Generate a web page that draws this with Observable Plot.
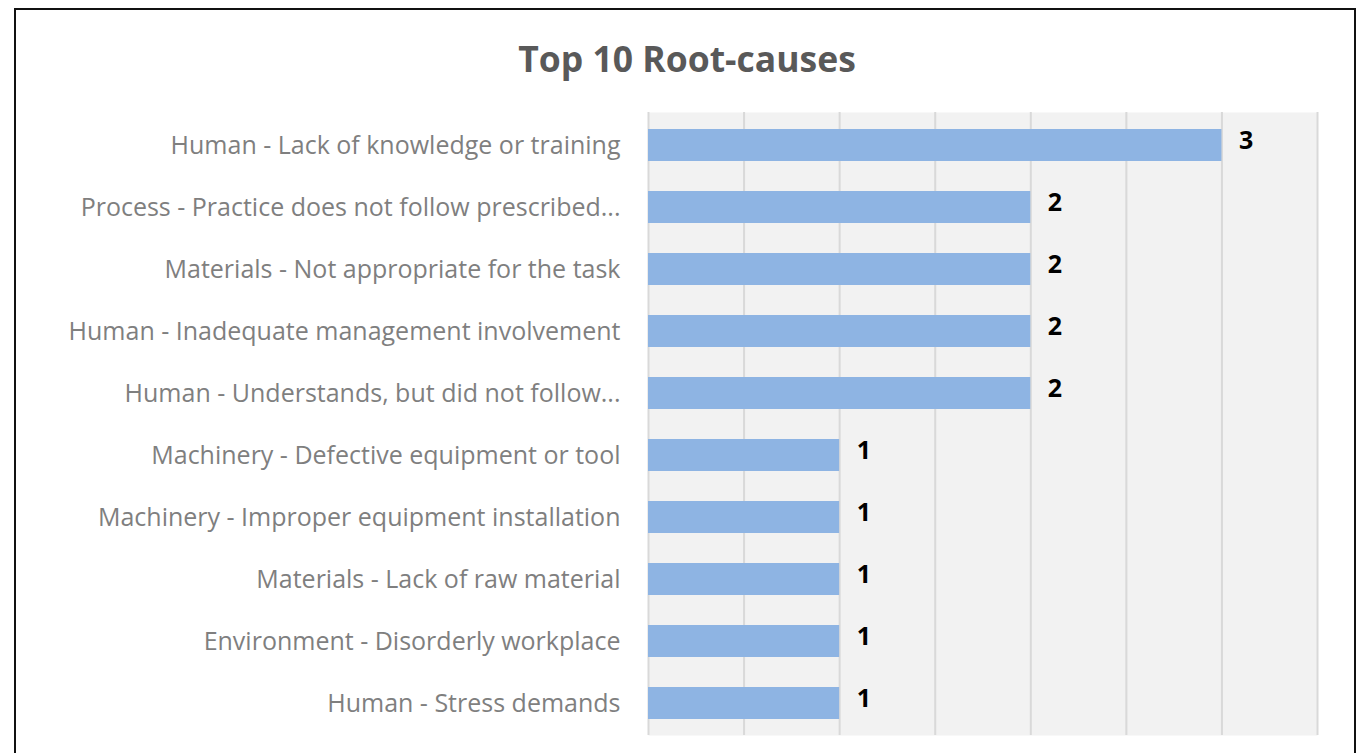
<!DOCTYPE html>
<html>
<head>
<meta charset="utf-8">
<script src="https://cdn.jsdelivr.net/npm/d3@7"></script>
<script src="https://cdn.jsdelivr.net/npm/@observablehq/plot@0.6"></script>
<style>
  html, body { margin: 0; padding: 0; background: #fff; overflow: hidden; }
  #frame { position: absolute; left: 14px; top: 8px; width: 1342px; height: 760px; border: 2px solid #111; box-sizing: border-box; }
  #title { position: absolute; left: 0; width: 1374px; top: 34px; text-align: center; font-family: "Open Sans", sans-serif; font-weight: 700; font-size: 35.5px; color: #595959; }
  #chart { position: absolute; left: 0; top: 0; }
</style>
</head>
<body>
<div id="frame"></div>
<div id="chart"></div>
<div id="title">Top 10 Root-causes</div>
<script>
const categories = [
  "Human - Lack of knowledge or training",
  "Process - Practice does not follow prescribed...",
  "Materials - Not appropriate for the task",
  "Human - Inadequate management involvement",
  "Human - Understands, but did not follow...",
  "Machinery - Defective equipment or tool",
  "Machinery - Improper equipment installation",
  "Materials - Lack of raw material",
  "Environment - Disorderly workplace",
  "Human - Stress demands"
];
const counts = [3, 2, 2, 2, 2, 1, 1, 1, 1, 1];
const gridTicks = [0, 0.5, 1, 1.5, 2, 2.5, 3, 3.5];

const data = categories.map((c, i) => ({category: c, count: counts[i]}));

const chart = Plot.plot({
  width: 1367,
  height: 753,
  marginTop: 112,
  marginBottom: 18,
  marginLeft: 648,
  marginRight: 50,
  style: {fontFamily: "'Open Sans', sans-serif", background: "transparent"},
  x: {domain: [0, 3.5], axis: null},
  y: {domain: categories, paddingInner: 0.49, paddingOuter: 0.245, label: null},
  marks: [
    Plot.frame({fill: "#f2f2f2", stroke: null}),
    Plot.ruleX(gridTicks, {stroke: "#d9d9d9", strokeWidth: 2}),
    Plot.barX(data, {x: "count", y: "category", fill: "#8eb4e3"}),
    Plot.text(data, {x: "count", y: "category", text: d => String(d.count), textAnchor: "start", dx: 17, dy: -5, fontSize: 25, fontWeight: "bold", fill: "#000"}),
    Plot.axisY({tickSize: 0, tickPadding: 28, fontSize: 25, label: null, color: "#7f7f7f"})
  ]
});
document.getElementById("chart").appendChild(chart);
</script>
</body>
</html>
